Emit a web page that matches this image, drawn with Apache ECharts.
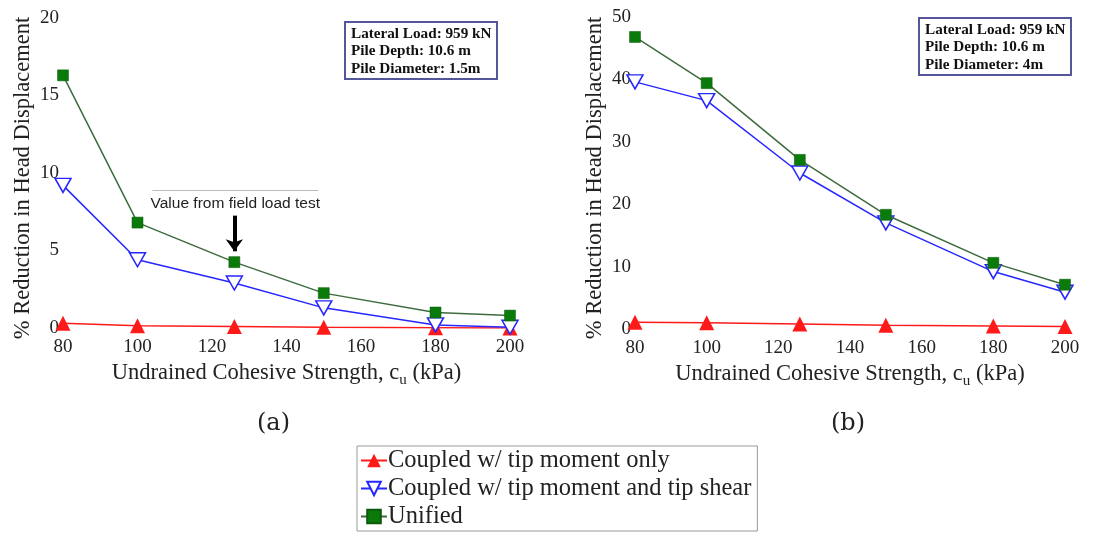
<!DOCTYPE html>
<html><head><meta charset="utf-8">
<script src="https://cdn.jsdelivr.net/npm/echarts@6/dist/echarts.min.js"></script>
<style>html,body{margin:0;padding:0;background:#fff}#c{width:1093px;height:538px}</style>
</head><body><div id="c"></div>
<script>
const cu = [80, 100, 126, 150, 180, 200];
const seriesNames = ['Coupled w/ tip moment only', 'Coupled w/ tip moment and tip shear', 'Unified'];
// panel (a): pile diameter 1.5 m
const aMomentOnly = [0.3, 0.15, 0.1, 0.05, 0.02, 0.0];
const aMomentShear = [9.2, 4.4, 2.9, 1.3, 0.2, 0.05];
const aUnified = [16.3, 6.8, 4.25, 2.25, 1.0, 0.8];
// panel (b): pile diameter 4 m
const bMomentOnly = [1.1, 1.0, 0.8, 0.6, 0.5, 0.4];
const bMomentShear = [39.6, 36.6, 25.0, 17.0, 9.2, 5.9];
const bUnified = [46.8, 39.4, 27.1, 18.3, 10.6, 7.1];
const xTicks = [80, 100, 120, 140, 160, 180, 200];
const aYTicks = [0, 5, 10, 15, 20];
const bYTicks = [0, 10, 20, 30, 40, 50];
const boxA = ['Lateral Load: 959 kN', 'Pile Depth: 10.6 m', 'Pile Diameter: 1.5m'];
const boxB = ['Lateral Load: 959 kN', 'Pile Depth: 10.6 m', 'Pile Diameter: 4m'];
const fieldNote = 'Value from field load test';

const serif = '"Liberation Serif", "DejaVu Serif", serif';
const RED = '#ff1a1a', BLUE = '#2626ff', GREEN = '#0a7a0a', GREENLINE = '#3d6b3d';
const invTri = 'path://M0,0 L10,0 L5,9 Z';

function pair(xs, ys) { return xs.map((x, i) => [x, ys[i]]); }

function xAxis(idx) {
  return {
    type: 'value', gridIndex: idx, min: 80, max: 200, interval: 20,
    name: 'Undrained Cohesive Strength, c{sub|u} (kPa)', nameLocation: 'middle', nameGap: 31,
    nameTextStyle: { fontFamily: serif, fontSize: 22.5, color: '#222', rich: { sub: { fontFamily: serif, fontSize: 15, color: '#222', padding: [13, 0, 0, 0] } } },
    axisLine: { show: false }, axisTick: { show: false }, splitLine: { show: false },
    axisLabel: { fontFamily: serif, fontSize: 19, color: '#222', margin: 10, formatter: v => xTicks.includes(v) ? String(v) : '' }
  };
}
function yAxis(idx, max, interval, ticks, gap) {
  return {
    type: 'value', gridIndex: idx, min: 0, max: max, interval: interval,
    name: '% Reduction in Head Displacement', nameLocation: 'middle', nameGap: gap,
    nameTextStyle: { fontFamily: serif, fontSize: 22.5, color: '#222', padding: [0, 10, 0, 0] },
    axisLine: { show: false }, axisTick: { show: false }, splitLine: { show: false },
    axisLabel: { fontFamily: serif, fontSize: 19, color: '#222', margin: 4, formatter: v => ticks.includes(v) ? String(v) : '' }
  };
}
function mkSeries(name, idx, ys, kind) {
  const base = { name: name, type: 'line', xAxisIndex: idx, yAxisIndex: idx, data: pair(cu, ys), z: kind === 'red' ? 3 : (kind === 'blue' ? 4 : 5) };
  if (kind === 'red') Object.assign(base, { symbol: 'triangle', symbolSize: 15, lineStyle: { color: RED, width: 1.5 }, itemStyle: { color: RED } });
  if (kind === 'blue') Object.assign(base, { symbol: invTri, symbolSize: [16, 14], symbolKeepAspect: false, lineStyle: { color: BLUE, width: 1.5 }, itemStyle: { color: '#fff', borderColor: BLUE, borderWidth: 1.5 } });
  if (kind === 'green') Object.assign(base, { symbol: 'rect', symbolSize: 11, lineStyle: { color: GREENLINE, width: 1.5 }, itemStyle: { color: GREEN, borderColor: '#0a5a0a', borderWidth: 0.5 } });
  return base;
}
function infoBox(lines, left, top) {
  return {
    text: lines.join('\n'), left: left, top: top,
    textStyle: { fontFamily: serif, fontSize: 15.2, fontWeight: 'bold', color: '#111', lineHeight: 17.5 },
    backgroundColor: '#fff', borderColor: '#55559a', borderWidth: 2, padding: [3, 6, 2, 6]
  };
}

const sA = [mkSeries(seriesNames[0], 0, aMomentOnly, 'red'), mkSeries(seriesNames[1], 0, aMomentShear, 'blue'), mkSeries(seriesNames[2], 0, aUnified, 'green')];
sA[2].markLine = {
  silent: true, symbol: ['none', 'arrow'], symbolSize: [13, 12], animation: false,
  data: [
    [{ coord: [126, 7.25], lineStyle: { color: '#000', width: 4, type: 'solid' }, label: { show: false } }, { coord: [126, 4.95] }],
    [{ coord: [104, 8.9], symbol: 'none', lineStyle: { color: '#bbb', width: 1, type: 'solid' },
       label: { show: true, position: 'insideMiddleBottom', formatter: fieldNote, fontFamily: '"Liberation Sans", Arial, sans-serif', fontSize: 15.5, color: '#222', distance: 6 } },
     { coord: [148.5, 8.9], symbol: 'none' }]
  ]
};
const sB = [mkSeries(seriesNames[0], 1, bMomentOnly, 'red'), mkSeries(seriesNames[1], 1, bMomentShear, 'blue'), mkSeries(seriesNames[2], 1, bUnified, 'green')];

const chart = echarts.init(document.getElementById('c'), null, { renderer: 'canvas' });
chart.setOption({
  animation: false,
  backgroundColor: '#fff',
  title: [infoBox(boxA, 345, 22), infoBox(boxB, 919, 18)],
  grid: [
    { left: 63, right: 583, top: 18, bottom: 210 },
    { left: 635, right: 28, top: 17, bottom: 209 }
  ],
  xAxis: [xAxis(0), xAxis(1)],
  yAxis: [yAxis(0, 20, 5, aYTicks, 28), yAxis(1, 50, 10, bYTicks, 28)],
  legend: {
    data: seriesNames, orient: 'vertical', left: 357, top: 446, width: 400,
    itemWidth: 26, itemHeight: 17, itemGap: 3,
    backgroundColor: '#fff', borderColor: '#999', borderWidth: 1, padding: [2, 6, 2, 3],
    textStyle: { fontFamily: serif, fontSize: 24.5, lineHeight: 24, color: '#222', padding: [0, 0, 0, -4] },
    selectedMode: false
  },
  graphic: [
    { type: 'text', left: 257, top: 412, style: { text: '(a)', font: '24px "DejaVu Serif", serif', fill: '#222' } },
    { type: 'text', left: 831, top: 412, style: { text: '(b)', font: '24px "DejaVu Serif", serif', fill: '#222' } }
  ],
  series: sA.concat(sB)
});
</script></body></html>
